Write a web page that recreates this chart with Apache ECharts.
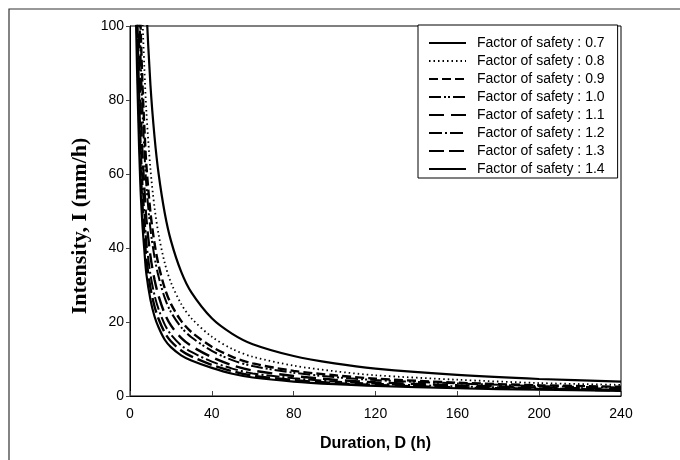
<!DOCTYPE html>
<html>
<head>
<meta charset="utf-8">
<title>Intensity - Duration</title>
<script src="https://cdn.jsdelivr.net/npm/echarts@6/dist/echarts.min.js"></script>
<style>
html, body { margin: 0; padding: 0; background: #fff; }
#chart { width: 680px; height: 460px; }
</style>
</head>
<body>
<div id="chart"></div>
<script>
// 持续时间 D (h)
let duration = [2, 3, 4, 5, 6, 7, 8, 10, 12, 14, 17, 20, 25, 30, 40, 50, 60, 80, 100, 120, 160, 200, 240];
// 各安全系数对应的降雨强度 I (mm/h)
let fs07 = [420, 280, 210, 168, 140, 120, 105, 84, 70, 60, 49.4, 42, 33.6, 28, 21, 16.8, 14, 10.8, 8.8, 7.4, 5.7, 4.6, 3.9];
let fs08 = [312, 212, 160, 126, 104, 88.9, 76.9, 61.2, 50.9, 43.6, 35.9, 30.7, 24.9, 21.0, 16.0, 12.7, 10.6, 8.2, 6.7, 5.6, 4.4, 3.5, 3.0];
let fs09 = [256, 176, 133, 104, 85.7, 72.8, 62.4, 49.6, 41.2, 35.3, 29.1, 24.9, 20.3, 17.3, 13.3, 10.6, 8.8, 6.8, 5.6, 4.7, 3.6, 2.9, 2.5];
let fs10 = [235, 162, 123, 95.6, 78.5, 66.6, 56.9, 45.1, 37.5, 32.2, 26.5, 22.7, 18.6, 15.9, 12.2, 9.7, 8.1, 6.3, 5.1, 4.3, 3.4, 2.7, 2.3];
let fs11 = [199, 139, 105, 81.5, 66.6, 56.4, 47.8, 37.8, 31.4, 27.0, 22.2, 19.1, 15.7, 13.5, 10.5, 8.3, 6.9, 5.4, 4.4, 3.7, 2.9, 2.3, 1.9];
let fs12 = [174, 123, 93, 71.7, 58.4, 49.3, 41.6, 32.8, 27.2, 23.4, 19.3, 16.6, 13.7, 11.9, 9.3, 7.4, 6.1, 4.8, 3.9, 3.3, 2.6, 2.1, 1.7];
let fs13 = [156, 111, 84, 64.5, 52.4, 44.2, 37.1, 29.2, 24.2, 20.8, 17.1, 14.8, 12.3, 10.7, 8.4, 6.7, 5.5, 4.3, 3.5, 3.0, 2.3, 1.9, 1.5];
let fs14 = [140, 100, 76, 58, 47, 39.5, 33, 26, 21.5, 18.5, 15.2, 13.2, 11, 9.6, 7.6, 6.0, 5.0, 3.9, 3.2, 2.7, 2.1, 1.7, 1.4];
let names = ['Factor of safety : 0.7', 'Factor of safety : 0.8', 'Factor of safety : 0.9', 'Factor of safety : 1.0',
	'Factor of safety : 1.1', 'Factor of safety : 1.2', 'Factor of safety : 1.3', 'Factor of safety : 1.4'];
let xTicks = [0, 40, 80, 120, 160, 200, 240];
let yTicks = [0, 20, 40, 60, 80, 100];

// 线型
let lineTypes = [
	{ type: 'solid', width: 2.2 },
	{ type: [1.5, 3], width: 1.8 },
	{ type: [9, 4], width: 2.4 },
	{ type: [12, 3, 2, 2, 2, 3], width: 2 },
	{ type: [15, 7], width: 2.4 },
	{ type: [13, 3, 2, 3], width: 2 },
	{ type: [15, 5], width: 2.4 },
	{ type: 'solid', width: 2.2 }
];

let allData = [fs07, fs08, fs09, fs10, fs11, fs12, fs13, fs14];
let series = [];
for (let i = 0; i < allData.length; i++) {
	let pts = [];
	for (let j = 0; j < duration.length; j++) {
		pts.push([duration[j], allData[i][j]]);
	}
	series.push({
		name: names[i],
		type: 'line',
		data: pts,
		smooth: 0.3,
		symbol: 'none',
		showSymbol: false,
		clip: true,
		lineStyle: {
			color: '#000',
			width: lineTypes[i].width,
			type: lineTypes[i].type
		},
		itemStyle: { color: '#000' }
	});
}

let myChart = echarts.init(document.getElementById('chart'));
myChart.setOption({
	animation: false,
	backgroundColor: '#fff',
	textStyle: { fontFamily: 'Liberation Sans' },
	graphic: [{
		type: 'rect',
		shape: { x: 9, y: 9, width: 720, height: 520 },
		style: { fill: 'none', stroke: '#333', lineWidth: 1.2 },
		z: -1
	}, {
		// 纵轴标题
		type: 'text',
		x: 80,
		y: 226,
		rotation: Math.PI / 2,
		style: {
			text: 'Intensity, I (mm/h)',
			font: 'bold 22px "Liberation Serif"',
			fill: '#000',
			align: 'center',
			verticalAlign: 'middle'
		}
	}],
	grid: {
		left: 130,
		top: 26,
		width: 491,
		height: 370,
		show: true,
		borderColor: '#000',
		borderWidth: 1
	},
	legend: {
		data: names,
		orient: 'vertical',
		left: 418,
		top: 25,
		itemWidth: 37,
		itemHeight: 14,
		itemGap: 4,
		padding: [11, 13, 2, 10],
		backgroundColor: '#fff',
		borderColor: '#000',
		borderWidth: 1,
		itemStyle: { opacity: 0 },
		textStyle: {
			fontSize: 14,
			color: '#000',
			fontFamily: 'Liberation Sans',
			padding: [0, 0, 0, 6]
		}
	},
	xAxis: {
		type: 'value',
		min: xTicks[0],
		max: xTicks[xTicks.length - 1],
		interval: xTicks[1] - xTicks[0],
		name: 'Duration, D (h)',
		nameLocation: 'middle',
		nameGap: 40,
		nameTextStyle: { fontSize: 16, fontWeight: 'bold', color: '#000', fontFamily: 'Liberation Sans' },
		axisLine: { lineStyle: { color: '#000', width: 1 } },
		axisTick: { inside: true, length: 5, lineStyle: { color: '#444' } },
		axisLabel: { fontSize: 14, color: '#000', margin: 11 },
		splitLine: { show: false }
	},
	yAxis: {
		type: 'value',
		min: yTicks[0],
		max: yTicks[yTicks.length - 1],
		interval: yTicks[1] - yTicks[0],
		axisLine: { lineStyle: { color: '#000', width: 1 } },
		axisTick: { inside: false, length: 4, lineStyle: { color: '#444' } },
		axisLabel: { fontSize: 14, color: '#000', margin: 6 },
		splitLine: { show: false }
	},
	series: series
});
</script>
</body>
</html>
